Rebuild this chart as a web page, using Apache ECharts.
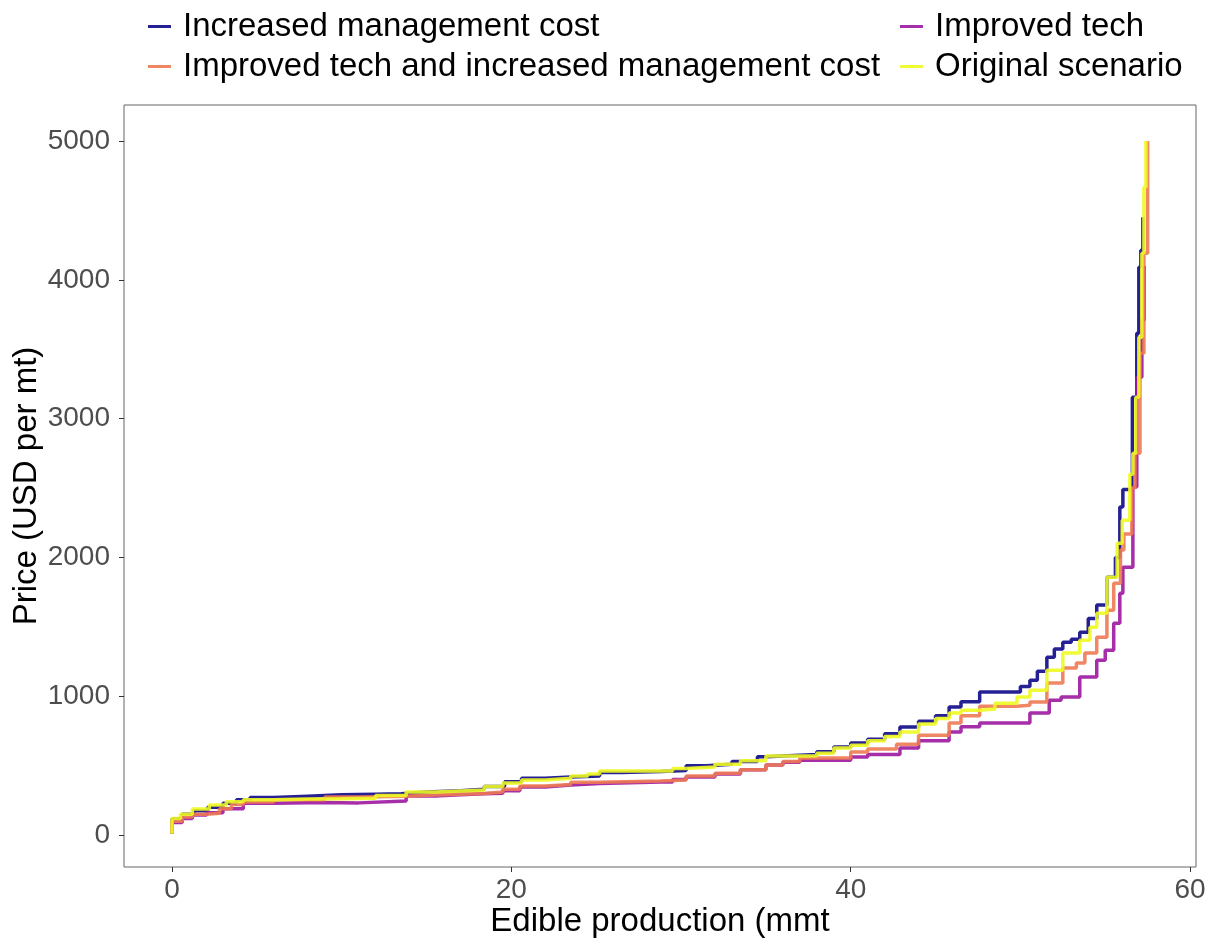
<!DOCTYPE html>
<html>
<head>
<meta charset="utf-8">
<script src="https://cdn.jsdelivr.net/npm/echarts@6/dist/echarts.min.js"></script>
<style>
  html, body { margin: 0; padding: 0; background: #ffffff; }
  #chart { width: 1209px; height: 939px; }
</style>
</head>
<body>
<div id="chart"></div>
<script>
// Supply curves: [edible production (mmt), price (USD per mt)], each point starts a price level
const increasedMgmtCost = [
  [0,10],[0,115],[0.6,150],[1.3,175],[2.1,200],[3,230],[3.8,255],[4.6,270],[6,280],[8,290],
  [10,295],[12,298],[13.5,310],[15,320],[17,330],[18.4,350],[19.6,385],[20.6,410],[22,418],
  [23.5,425],[25.2,450],[26.5,458],[28.8,465],[30.3,500],[31.5,510],[33,530],[34.5,565],
  [35,576],[37,580],[38,600],[39,634],[40,663],[41,690],[42,730],[42.9,778],[44,820],[45,860],
  [45.8,922],[46.5,960],[47.6,1030],[50,1070],[50.56,1116],[51,1180],[51.56,1282],[52,1340],
  [52.5,1390],[53,1410],[53.5,1462],[54,1560],[54.5,1657],[55.1,1858],[55.6,2000],[55.86,2363],
  [56.04,2490],[56.6,3155],[56.86,3616],[56.98,4091],[57.1,4213],[57.22,4451]
];
const improvedTech = [
  [0,10],[0,90],[0.6,120],[1.2,145],[2.05,160],[3,190],[4.2,230],[6,235],[9,232],[11,245],
  [13.8,281],[15.5,290],[17,298],[18.4,302],[19.5,320],[20.5,346],[22,360],[23.5,372],
  [25.2,382],[28.8,382],[29.5,400],[30.3,418],[32,440],[33.5,470],[35,504],[36,525],[37,540],
  [39,540],[40,562],[41,580],[42.9,627],[44,680],[45.8,742],[46.5,780],[47.6,807],[49.8,807],
  [50.56,879],[51.7,972],[52.4,994],[53.5,1138],[54.5,1260],[55,1332],[55.5,1527],[55.86,1743],
  [56.04,1930],[56.63,2507],[56.86,3299],[57.16,3710],[57.3,4100]
];
const improvedTechMgmtCost = [
  [0,10],[0,100],[0.6,130],[1.2,150],[2.05,158],[2.8,190],[3.5,220],[4.2,238],[6,255],[9,274],
  [11,280],[13.8,288],[15.5,295],[17,300],[18.4,310],[19.5,330],[20.5,353],[22,365],[23.5,380],
  [25.2,389],[28.8,396],[30.3,425],[32,445],[33.5,470],[35,504],[36,530],[37,555],[39,555],
  [40,598],[41,620],[42.7,655],[44,720],[45.8,807],[46.5,860],[47.6,929],[49.8,936],[50.56,958],
  [51.56,1095],[52.5,1203],[53.3,1240],[53.8,1311],[54.5,1426],[55.1,1620],[55.5,1815],
  [55.9,2053],[56.1,2170],[56.57,2500],[56.75,2751],[57.05,3472],[57.28,4192],[57.5,5000]
];
const originalScenario = [
  [0,10],[0,120],[0.5,150],[1.2,187],[2.2,216],[3.2,240],[4.2,255],[6,260],[8,262],[10,265],
  [12,285],[13.8,310],[15.5,318],[17,325],[18.4,350],[19.5,375],[20.6,396],[22,410],[23.5,425],
  [24.5,440],[25.2,461],[28.8,461],[29.5,480],[30.3,490],[32,510],[33.5,535],[35,569],[37,572],
  [38,590],[39,627],[40,648],[41,680],[42,710],[42.9,742],[44,800],[45,840],[45.8,879],[46.5,900],
  [47.6,908],[48.5,950],[49.8,994],[50.56,1044],[51.56,1188],[52.5,1311],[53.5,1404],[54.1,1498],
  [54.5,1599],[55.1,1858],[55.7,2103],[56.0,2269],[56.45,2600],[56.63,2751],[56.8,3155],
  [56.98,3587],[57.16,4192],[57.28,4667],[57.4,5000]
];

const seriesNames = [
  'Increased management cost',
  'Improved tech',
  'Improved tech and increased management cost',
  'Original scenario'
];
const seriesColors = ['#0D0887', '#9C179E', '#ED7953', '#F0F921'];
const seriesData = [increasedMgmtCost, improvedTech, improvedTechMgmtCost, originalScenario];

const xTicks = [0, 20, 40, 60];
const yTicks = [0, 1000, 2000, 3000, 4000, 5000];
// padded axis ranges around the data
const xRange = [-2.83, 60.35];
const yRange = [-230, 5260];

const FONT = '"Liberation Sans", Arial, Helvetica, sans-serif';

const chart = echarts.init(document.getElementById('chart'), null, { renderer: 'canvas' });

const legendCommon = {
  orient: 'vertical',
  top: 5,
  itemWidth: 23,
  itemHeight: 3,
  itemGap: 7,
  icon: 'rect',
  selectedMode: false,
  textStyle: { fontFamily: FONT, fontSize: 33, color: '#000', lineHeight: 33, padding: [0, 0, 0, 7] }
};

chart.setOption({
  animation: false,
  backgroundColor: '#ffffff',
  color: seriesColors,
  legend: [
    Object.assign({}, legendCommon, { left: 143, data: [seriesNames[0], seriesNames[2]] }),
    Object.assign({}, legendCommon, { left: 895, data: [seriesNames[1], seriesNames[3]] })
  ],
  grid: {
    left: 124, right: 13, top: 105, bottom: 72, containLabel: false,
    show: true, borderColor: '#666666', borderWidth: 1, backgroundColor: 'transparent'
  },
  xAxis: {
    type: 'value',
    min: xRange[0],
    max: xRange[1],
    axisLine: { show: false, onZero: false },
    axisTick: { show: true, length: 5, customValues: xTicks, lineStyle: { color: '#333333', width: 1 } },
    axisLabel: { customValues: xTicks, formatter: v => String(v),
                 fontFamily: FONT, fontSize: 28, color: '#4D4D4D', margin: 9 },
    splitLine: { show: false }
  },
  yAxis: {
    type: 'value',
    min: yRange[0],
    max: yRange[1],
    axisLine: { show: false, onZero: false },
    axisTick: { show: true, length: 5, customValues: yTicks, lineStyle: { color: '#333333', width: 1 } },
    axisLabel: { customValues: yTicks, formatter: v => String(v),
                 fontFamily: FONT, fontSize: 28, color: '#4D4D4D', margin: 14 },
    splitLine: { show: false }
  },
  graphic: [
    {
      type: 'text', x: 660, y: 922, silent: true,
      style: { text: 'Edible production (mmt', font: '33px ' + FONT, fill: '#000',
               textAlign: 'center', textVerticalAlign: 'middle' }
    },
    {
      type: 'text', x: 27, y: 486, rotation: Math.PI / 2, silent: true,
      style: { text: 'Price (USD per mt)', font: '33px ' + FONT, fill: '#000',
               textAlign: 'center', textVerticalAlign: 'middle' }
    }
  ],
  series: seriesData.map((d, i) => ({
    name: seriesNames[i],
    type: 'line',
    step: 'end',
    data: d,
    showSymbol: false,
    symbol: 'none',
    z: 2 + i,
    lineStyle: { width: 3.5, color: seriesColors[i], opacity: 0.9 },
    itemStyle: { color: seriesColors[i], opacity: 0.9 }
  }))
});
</script>
</body>
</html>
